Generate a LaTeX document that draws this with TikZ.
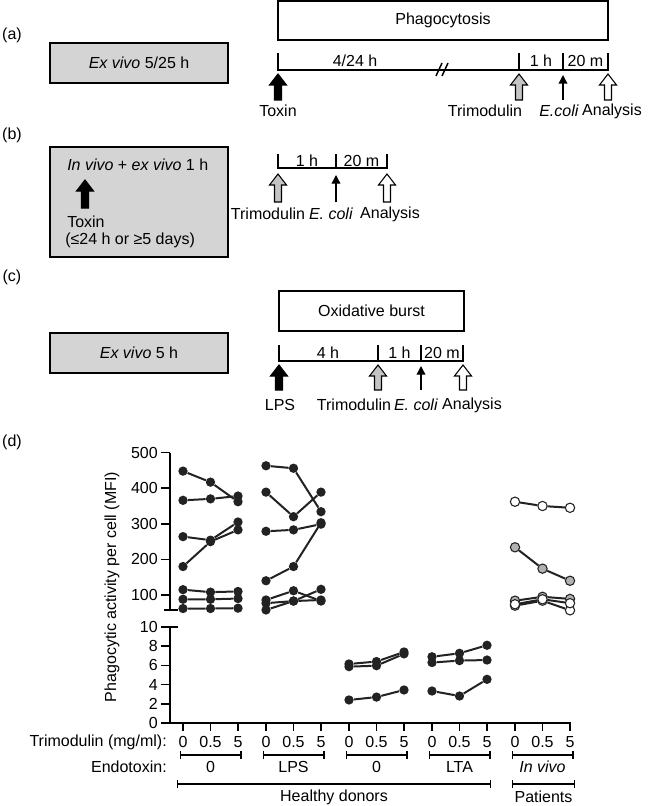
\documentclass[tikz,border=0pt]{standalone}
\usepackage{fontspec}
\setmainfont{Liberation Sans}
\usetikzlibrary{arrows.meta}

\definecolor{boxgray}{RGB}{212,212,212}
\definecolor{arrgray}{RGB}{196,196,196}
\definecolor{dotgray}{RGB}{178,178,178}
\definecolor{linegray}{RGB}{34,34,34}

% fat arrow pointing up: fill, x, tip y, foot y
\newcommand{\blockarrow}[4]{%
  \draw[line width=0.8pt, fill=#1] ({#2-3.5},#4) -- ({#2-3.5},{#3+11}) -- ({#2-8.5},{#3+11})
    -- (#2,#3) -- ({#2+8.5},{#3+11}) -- ({#2+3.5},{#3+11}) -- ({#2+3.5},#4) -- cycle;}

\begin{document}
\begin{tikzpicture}[x=0.75pt, y=-0.75pt,
    lbl/.style={font=\fontsize{12}{14}\selectfont, inner sep=0pt},
    graybox/.style={draw, line width=1.3pt, fill=boxgray, font=\fontsize{12}{14}\selectfont},
    whitebox/.style={draw, line width=1.3pt, fill=white, font=\fontsize{12}{14}\selectfont},
    tline/.style={line width=1.1pt},
    thinarrow/.style={line width=1pt, -{Triangle[width=6.5pt,length=6.5pt]}},
    bracket/.style={line width=1pt, {Bar[width=6pt]}-{Bar[width=6pt]}},
    series/.style={line width=1.5pt, draw=linegray},
    bdot/.style={circle, fill=linegray, inner sep=0pt, minimum size=7pt},
    wdot/.style={circle, draw=linegray, fill=white, line width=0.8pt, inner sep=0pt, minimum size=7pt},
    gdot/.style={circle, draw=linegray, fill=dotgray, line width=0.8pt, inner sep=0pt, minimum size=7pt}]
\useasboundingbox (0,0) rectangle (652,806);

% panel letters
\node[lbl] (pa) at (12,35) {(a)};
\node[lbl] (pb) at (12,135) {(b)};
\node[lbl] (pc) at (12,277) {(c)};
\node[lbl] (pd) at (12,442) {(d)};

% (a) phagocytosis, ex vivo
\node[whitebox, minimum width=247.5pt, minimum height=29.25pt] (phago) at (443,20.5) {Phagocytosis};
\node[graybox, minimum width=133.5pt, minimum height=30pt] (exa) at (139,63) {\textit{Ex vivo} 5/25 h};
\coordinate (a0) at (278,70);
\coordinate (a1) at (519,70);
\coordinate (a2) at (563,70);
\coordinate (a3) at (608,70);
\draw[tline] (a0) ++(0,-17) -- (a0) -- (a3) -- ++(0,-17);
\draw[tline] (a1) -- ++(0,-17) (a2) -- ++(0,-17);
\draw[tline] (436,76) -- (442,63) (442,76) -- (448,63);
\node[lbl] (a4h) at (355,61) {4/24 h};
\node[lbl] (a1h) at (541,61) {1 h};
\node[lbl] (a20m) at (585.5,61) {20 m};
\blockarrow{black}{278}{74}{100}
\blockarrow{arrgray}{519}{74}{100}
\draw[thinarrow] (563,100) -- (563,75);
\blockarrow{white}{608}{74}{100}
\node[lbl] (atox) at (278,111) {Toxin};
\node[lbl] (atri) at (485,111) {Trimodulin};
\node[lbl] (aeco) at (559,111) {\textit{E.coli}};
\node[lbl] (aana) at (612,111) {Analysis};

% (b) in vivo + ex vivo
\node[graybox, minimum width=133.5pt, minimum height=82.5pt] (exb) at (139,202) {};
\node[lbl, anchor=west] (binv) at (67,165) {\textit{In vivo} + \textit{ex vivo} 1 h};
\blockarrow{black}{85}{180}{208}
\node[lbl, anchor=west] (btox) at (67,222) {Toxin};
\node[lbl, anchor=west] (btime) at (65,240) {(≤24 h or ≥5 days)};
\coordinate (b0) at (278,168);
\coordinate (b1) at (336,168);
\coordinate (b2) at (387,168);
\draw[tline] (b0) ++(0,-14) -- (b0) -- (b2) -- ++(0,-14);
\draw[tline] (b1) -- ++(0,-14);
\node[lbl] (b1h) at (307,161) {1 h};
\node[lbl] (b20m) at (361.5,161) {20 m};
\blockarrow{arrgray}{278}{174}{202}
\draw[thinarrow] (336,202) -- (336,175);
\blockarrow{white}{387}{174}{202}
\node[lbl] (btri) at (268,214) {Trimodulin};
\node[lbl] (beco) at (331,214) {\textit{E. coli}};
\node[lbl] (bana) at (390,214) {Analysis};

% (c) oxidative burst
\node[whitebox, minimum width=138.75pt, minimum height=30pt] (oxi) at (371.5,311) {Oxidative burst};
\node[graybox, minimum width=133.5pt, minimum height=30pt] (exc) at (139,353) {\textit{Ex vivo} 5 h};
\coordinate (c0) at (279,361);
\coordinate (c1) at (378,361);
\coordinate (c2) at (421,361);
\coordinate (c3) at (463,361);
\draw[tline] (c0) ++(0,-16) -- (c0) -- (c3) -- ++(0,-16);
\draw[tline] (c1) -- ++(0,-16) (c2) -- ++(0,-16);
\node[lbl] (c4h) at (328,353) {4 h};
\node[lbl] (c1h) at (399.5,353) {1 h};
\node[lbl] (c20m) at (442,353) {20 m};
\blockarrow{black}{279}{365}{390}
\blockarrow{arrgray}{378}{365}{390}
\draw[thinarrow] (421,390) -- (421,366);
\blockarrow{white}{463}{365}{390}
\node[lbl] (clps) at (280,405) {LPS};
\node[lbl] (ctri) at (354,405) {Trimodulin};
\node[lbl] (ceco) at (416,405) {\textit{E. coli}};
\node[lbl] (cana) at (472,405) {Analysis};

% (d) upper panel, MFI 100-500
\begin{scope}[shift={(0,630.6)}, y=0.267pt]
  \draw[tline] (170,58) -- (170,500);
  \draw[tline] (164,58) -- (178,58);
  \foreach \v in {100,200,...,500} {
    \draw[tline] (161,\v) -- (170,\v);
    \node[lbl, anchor=east] (yu\v) at (158,\v) {\v};
  }
  \foreach \k/\a/\b/\c [count=\n] in {0/448/417/362, 0/366/370/378, 0/264/254/305,
      0/180/250/283, 0/115/108/110, 0/88/88/90, 0/62/62/63,
      1/463/456/334, 1/389/320/389, 1/279/283/299, 1/140/180/303,
      1/86/112/83, 1/58/83/116, 1/77/83/86} {
    \pgfmathsetmacro\xa{183+83*\k}
    \node[bdot] (up\n-1) at (\xa,\a) {};
    \node[bdot] (up\n-2) at (\xa+27.5,\b) {};
    \node[bdot] (up\n-3) at (\xa+55,\c) {};
    \draw[series] (up\n-1) -- (up\n-2) -- (up\n-3);
  }
  \foreach \a/\b/\c/\s [count=\n] in {362/350/345/wdot, 234/174/140/gdot,
      84/95/89/gdot, 70/84/57/wdot, 74/88/77/wdot} {
    \node[\s] (pt\n-1) at (515,\a) {};
    \node[\s] (pt\n-2) at (542.5,\b) {};
    \node[\s] (pt\n-3) at (570,\c) {};
    \draw[series] (pt\n-1) -- (pt\n-2) -- (pt\n-3);
  }
\end{scope}

% (d) lower panel, MFI 0-10
\begin{scope}[shift={(0,723)}, y=7.2pt]
  \draw[tline] (170,10) -- (170,0) -- (571,0);
  \draw[line width=1.8pt] (170,0) -- (340,0);
  \draw[tline] (170,10) -- (178,10);
  \foreach \v in {0,2,...,10} {
    \draw[tline] (161,\v) -- (170,\v);
    \node[lbl, anchor=east] (yl\v) at (158,\v) {\v};
  }
  \foreach \k/\a/\b/\c [count=\n] in {2/6.15/6.4/7.4, 2/5.87/5.97/7.2, 2/2.4/2.7/3.44,
      3/6.9/7.26/8.1, 3/6.3/6.5/6.56, 3/3.33/2.81/4.55} {
    \pgfmathsetmacro\xa{183+83*\k}
    \node[bdot] (lo\n-1) at (\xa,\a) {};
    \node[bdot] (lo\n-2) at (\xa+27.5,\b) {};
    \node[bdot] (lo\n-3) at (\xa+55,\c) {};
    \draw[series] (lo\n-1) -- (lo\n-2) -- (lo\n-3);
  }
\end{scope}

\node[lbl, rotate=90] (ylab) at (112,587) {Phagocytic activity per cell (MFI)};

% x axis rows
\node[lbl, anchor=east] (trilab) at (167,742) {Trimodulin (mg/ml):};
\node[lbl, anchor=east] (endolab) at (167,767) {Endotoxin:};
\foreach \k/\e in {0/0, 1/LPS, 2/0, 3/LTA, 4/\textit{In vivo}} {
  \pgfmathsetmacro\xa{183+83*\k}
  \foreach \j/\t in {0/0, 1/0.5, 2/5} {
    \draw[tline] ({\xa+27.5*\j},723) -- ({\xa+27.5*\j},731);
    \node[lbl] (tk\k\j) at ({\xa+27.5*\j},742) {\t};
  }
  \draw[bracket] ({\xa-3.5},755) -- ({\xa+58.5},755);
  \node[lbl] (en\k) at ({\xa+27.5},767) {\e};
}
\draw[bracket] (177,784) -- (491,784);
\node[lbl] (healthy) at (334,797) {Healthy donors};
\draw[bracket] (512,784) -- (575,784);
\node[lbl] (patients) at (543.5,797) {Patients};
\end{tikzpicture}
\end{document}
